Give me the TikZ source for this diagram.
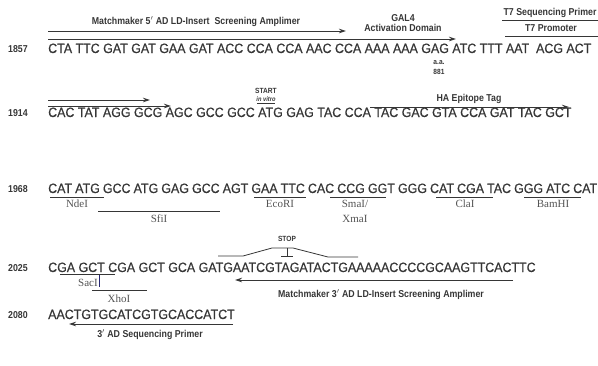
\documentclass[tikz,border=0pt]{standalone}
\usepackage{fontspec}
\setmainfont{Liberation Sans}
\newfontfamily\seqfont[FakeStretch=0.92,WordSpace=1.0,FakeBold=0.6]{Liberation Sans}
\newfontfamily\lblfont[FakeStretch=0.88]{Liberation Sans}
\newfontfamily\enzfont{Liberation Serif}
\usetikzlibrary{arrows.meta}
\definecolor{ink}{HTML}{363636}
\begin{document}
\begin{tikzpicture}[x=1pt,y=-1pt,
  seq/.style={anchor=base west, inner sep=0pt, font=\seqfont\fontsize{13.5}{13.5}\selectfont, text=ink},
  num/.style={anchor=base west, inner sep=0pt, font=\lblfont\bfseries\fontsize{10}{10}\selectfont, text=ink},
  lbl/.style={anchor=base, inner sep=0pt, font=\lblfont\bfseries\fontsize{10}{10}\selectfont, text=ink},
  tiny/.style={anchor=base, inner sep=0pt, font=\lblfont\bfseries\fontsize{7.5}{7.5}\selectfont, text=ink},
  enz/.style={anchor=base, inner sep=0pt, font=\enzfont\fontsize{11}{11}\selectfont, text=ink!85},
  rline/.style={draw=ink, line width=0.9pt},
  parrow/.style={draw=ink, line width=0.9pt, -{Stealth[length=7pt,width=4.5pt]}},
]
\useasboundingbox (0,0) rectangle (598,365);
% numbers
\node[num] (n1) at (8,52) {1857};
\node[num] (n2) at (8,116) {1914};
\node[num] (n3) at (8,192) {1968};
\node[num] (n4) at (8,271) {2025};
\node[num] (n5) at (8,318) {2080};
% sequences
\node[seq] (s1) at (48,53) {CTA TTC GAT GAT GAA GAT ACC CCA CCA AAC CCA AAA AAA GAG ATC TTT AAT\ \ ACG ACT};
\node[seq] (s2) at (48,117) {CAC TAT AGG GCG AGC GCC GCC ATG GAG TAC CCA TAC GAC GTA CCA GAT TAC GCT};
\node[seq] (s3) at (48,193) {\spaceskip=3.1pt CAT ATG GCC ATG GAG GCC AGT GAA TTC CAC CCG GGT GGG CAT CGA TAC GGG ATC CAT};
\node[seq] (s4) at (48,272) {CGA GCT CGA GCT GCA GATGAATCGTAGATACTGAAAAACCCCGCAAGTTCACTTC};
\node[seq] (s5) at (48,319) {AACTGTGCATCGTGCACCATCT};

% row 1 annotations
\node[lbl] (mm5) at (196,24) {Matchmaker 5$'$ AD LD-Insert\ \ Screening Amplimer};
\coordinate (a1s) at (48,31); \coordinate (a1e) at (346,31);
\draw[parrow] (a1s) -- (a1e);
\node[lbl] (gal) at (403,21) {GAL4};
\node[lbl] (act) at (403,31) {Activation Domain};
\coordinate (a2s) at (48,39); \coordinate (a2e) at (456,39);
\draw[parrow] (a2s) -- (a2e);
\node[lbl] (t7s) at (550,15) {T7 Sequencing Primer};
\coordinate (t7a) at (502,20); \coordinate (t7b) at (598,20);
\draw[rline] (t7a) -- (t7b);
\node[lbl] (t7p) at (551,31) {T7 Promoter};
\coordinate (t7c) at (505,36); \coordinate (t7d) at (598,36);
\draw[rline] (t7c) -- (t7d);
\node[tiny] (aa) at (439,64) {a.a.};
\node[tiny] (aan) at (439,74) {881};

% row 2 annotations
\coordinate (b1s) at (48,100); \coordinate (b1e) at (150,100);
\draw[parrow] (b1s) -- (b1e);
\coordinate (b2s) at (48,106); \coordinate (b2e) at (171,106);
\draw[parrow] (b2s) -- (b2e);
\node[tiny] (start) at (266,93) {START};
\node[tiny, font=\lblfont\bfseries\itshape\fontsize{6.5}{6.5}\selectfont] (vitro) at (266,101) {in vitro};
\coordinate (v1) at (257,103.5); \coordinate (v2) at (275,103.5);
\draw[ink, line width=0.6pt] (v1) -- (v2);
\node[lbl] (ha) at (469,101) {HA Epitope Tag};
\coordinate (has) at (370,107); \coordinate (hae) at (569,107);
\draw[parrow] (has) -- (hae);

% row 3 enzymes
\coordinate (nd1) at (50,197); \coordinate (nd2) at (104,197);
\draw[rline] (nd1) -- (nd2);
\node[enz] (ndei) at (77,207) {NdeI};
\coordinate (sf1) at (98,211); \coordinate (sf2) at (220,211);
\draw[rline] (sf1) -- (sf2);
\node[enz] (sfii) at (159,222) {SfiI};
\coordinate (ec1) at (254,197); \coordinate (ec2) at (306,197);
\draw[rline] (ec1) -- (ec2);
\node[enz] (ecori) at (280,207) {EcoRI};
\coordinate (sm1) at (330,197); \coordinate (sm2) at (386,197);
\draw[rline] (sm1) -- (sm2);
\node[enz] (smai) at (355,207) {SmaI/};
\node[enz] (xmai) at (355,222) {XmaI};
\coordinate (cl1) at (436,197); \coordinate (cl2) at (493,197);
\draw[rline] (cl1) -- (cl2);
\node[enz] (clai) at (465,207) {ClaI};
\coordinate (bm1) at (524,197); \coordinate (bm2) at (581,197);
\draw[rline] (bm1) -- (bm2);
\node[enz] (bamhi) at (553,207) {BamHI};

% row 4
\node[tiny] (stop) at (287,241) {STOP};
\coordinate (k1) at (218,256); \coordinate (k2) at (243,256);
\coordinate (k3) at (272,248); \coordinate (k4) at (293,248);
\coordinate (k5) at (328,257); \coordinate (k6) at (358,257);
\draw[ink, line width=0.8pt] (k1) -- (k2) -- (k3) -- (k4) -- (k5) -- (k6);
\coordinate (tt1) at (287,248); \coordinate (tt2) at (287,256);
\coordinate (tt3) at (281,256); \coordinate (tt4) at (293,256);
\draw[ink, line width=0.8pt] (tt1) -- (tt2) (tt3) -- (tt4);
\coordinate (sa1) at (60,274); \coordinate (sa2) at (115,274);
\draw[rline] (sa1) -- (sa2);
\node[enz] (saci) at (88,286) {SacI};
\coordinate (sv1) at (99,275); \coordinate (sv2) at (99,287);
\draw[ink!70!blue, line width=0.8pt] (sv1) -- (sv2);
\coordinate (xh1) at (92,290); \coordinate (xh2) at (147,290);
\draw[rline] (xh1) -- (xh2);
\node[enz] (xhoi) at (119,302) {XhoI};
\coordinate (m3s) at (513,280); \coordinate (m3e) at (235,280);
\draw[parrow] (m3s) -- (m3e);
\node[lbl] (mm3) at (381,297) {Matchmaker 3$'$ AD LD-Insert Screening Amplimer};

% row 5
\coordinate (p5s) at (233,324); \coordinate (p5e) at (69,324);
\draw[parrow] (p5s) -- (p5e);
\node[lbl] (adp) at (150,337) {3$'$ AD Sequencing Primer};
\end{tikzpicture}
\end{document}
